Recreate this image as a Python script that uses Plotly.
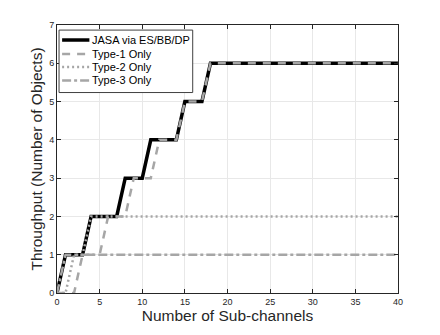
import plotly.graph_objects as go

# Number of sub-channels
sub_channels = list(range(0, 41))

# Throughput for each scheme (number of objects)
jasa = [0, 1, 1, 1, 2, 2, 2, 2, 3, 3, 3, 4, 4, 4, 4, 5, 5, 5] + [6] * 23
type1 = [0, 0, 0, 1, 1, 1, 2, 2, 2, 3, 3, 3, 4, 4, 4, 5, 5, 5] + [6] * 23
type2 = [0, 0, 1, 1] + [2] * 37
type3 = [0] + [1] * 40

names = ["JASA via ES/BB/DP", "Type-1 Only", "Type-2 Only", "Type-3 Only"]

gray = "#a6a6a6"
styles = [
    dict(color="black", width=3.5),
    dict(color=gray, width=2.5, dash="8px,7px"),
    dict(color=gray, width=2.5, dash="2px,3px"),
    dict(color=gray, width=2.5, dash="9px,3px,3px,3px"),
]

fig = go.Figure()
for ys, name, st in zip([jasa, type1, type2, type3], names, styles):
    fig.add_trace(go.Scatter(x=sub_channels, y=ys, name=name, mode="lines", line=st))

axis_style = dict(
    showgrid=True, gridcolor="#e8e8e8", gridwidth=1,
    showline=True, linecolor="#262626", linewidth=1, mirror="ticks",
    ticks="inside", ticklen=4, tickcolor="#262626",
    tickfont=dict(size=9, color="#262626"), zeroline=False, automargin=False,
)

fig.update_xaxes(range=[0, 40], dtick=5,
                 title=dict(text="Number of Sub-channels", font=dict(size=15.5, color="#262626"), standoff=4),
                 **axis_style)
fig.update_yaxes(range=[0, 7], dtick=1,
                 title=dict(text="Throughput (Number of Objects)", font=dict(size=15.5, color="#262626"), standoff=2),
                 **axis_style)

# legend box drawn by hand (MATLAB-style compact legend)
box_x0, box_x1, box_y0, box_y1 = 0.006, 0.398, 0.748, 0.981
fig.add_shape(type="rect", xref="paper", yref="paper",
              x0=box_x0, x1=box_x1, y0=box_y0, y1=box_y1,
              fillcolor="white", line=dict(color="#404040", width=1), layer="above")
row_y = [0.944, 0.892, 0.843, 0.793]
for name, st, ry in zip(names, styles, row_y):
    fig.add_shape(type="line", xref="paper", yref="paper",
                  x0=0.015, x1=0.095, y0=ry, y1=ry, line=st, layer="above")
    fig.add_annotation(text=name, xref="paper", yref="paper", x=0.097, y=ry,
                       xanchor="left", yanchor="middle", showarrow=False,
                       font=dict(size=11, color="black"))

fig.update_layout(
    width=432, height=327,
    margin=dict(l=49, r=42, t=17, b=42),
    paper_bgcolor="white", plot_bgcolor="white",
    font=dict(family="Liberation Sans, Arial, sans-serif"),
    showlegend=False,
)

fig.write_html("out.html")
